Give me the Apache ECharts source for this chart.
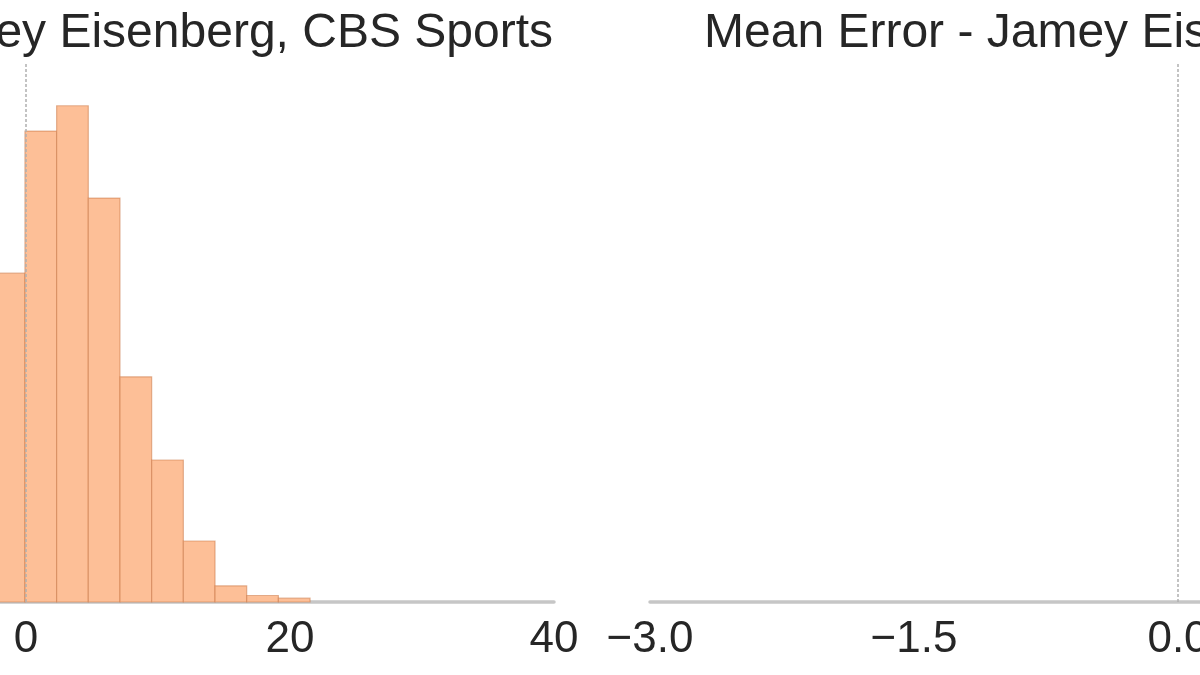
<!DOCTYPE html>
<html>
<head>
<meta charset="utf-8">
<script src="https://cdn.jsdelivr.net/npm/echarts@6/dist/echarts.min.js"></script>
<style>
html,body{margin:0;padding:0;background:#fff;}
#chart{width:1200px;height:675px;}
</style>
</head>
<body>
<div id="chart"></div>
<script>
// Left panel histogram (error distribution): bin start, bin width, height
const binStarts = [-2.48, -0.08, 2.32, 4.72, 7.12, 9.52, 11.92, 14.32, 16.72, 19.12];
const binWidth = 2.4;
const binCounts = [60.9, 87.2, 91.9, 74.8, 41.7, 26.3, 11.3, 3.0, 1.2, 0.7];
// reference lines (axvline at 0)
const leftRefLines = [0];
const rightRefLines = [0];
// titles
const leftTitle = 'Mean Error - Jamey Eisenberg, CBS Sports';
const rightTitle = 'Mean Error - Jamey Eisenberg, CBS Sports';
// axis ranges / ticks
const leftTicks = {min: -40, max: 40, interval: 20};
const rightTicks = {min: -3, max: 3, interval: 1.5};

const FONT = '"Liberation Sans", Arial, sans-serif';
const TXT = '#262626';

const histData = binStarts.map((s, i) => [s, s + binWidth, binCounts[i]]);

const chart = echarts.init(document.getElementById('chart'), null, {renderer: 'canvas'});

function minusFmt(v, digits) {
  const s = digits ? Number(v).toFixed(digits) : String(Math.round(v));
  return s.replace('-', '\u2212');
}

const axisCommon = {
  type: 'value',
  axisLine: {show: true, lineStyle: {color: '#c6c6c6', width: 3.5}},
  axisTick: {show: false},
  splitLine: {show: false},
};

const refLineStyle = {type: [3, 2], color: '#b0b0b0', width: 1.5};
const titleStyle = {fontFamily: FONT, fontSize: 48, fontWeight: 'normal', color: TXT};

chart.setOption({
  animation: false,
  backgroundColor: '#ffffff',
  textStyle: {fontFamily: FONT},
  title: [
    {text: leftTitle, right: 647, top: 10, padding: 0, textStyle: titleStyle},
    {text: rightTitle, left: 704, top: 10, padding: 0, textStyle: titleStyle}
  ],
  grid: [
    {left: -502, width: 1056, top: 62, height: 540, outerBoundsMode: 'none', containLabel: false},
    {left: 650, width: 1056, top: 62, height: 540, outerBoundsMode: 'none', containLabel: false}
  ],
  xAxis: [
    Object.assign({}, axisCommon, {
      gridIndex: 0, min: leftTicks.min, max: leftTicks.max, interval: leftTicks.interval,
      axisLabel: {color: TXT, fontSize: 44, fontFamily: FONT, margin: 16,
                  formatter: v => minusFmt(v, 0)}
    }),
    Object.assign({}, axisCommon, {
      gridIndex: 1, min: rightTicks.min, max: rightTicks.max, interval: rightTicks.interval,
      axisLabel: {color: TXT, fontSize: 44, fontFamily: FONT, margin: 16,
                  formatter: v => minusFmt(v, 1)}
    })
  ],
  yAxis: [
    {type: 'value', gridIndex: 0, min: 0, max: 100, show: false},
    {type: 'value', gridIndex: 1, min: 0, max: 100, show: false}
  ],
  series: [
    {
      type: 'custom',
      xAxisIndex: 0, yAxisIndex: 0,
      data: histData,
      encode: {x: [0, 1], y: 2},
      renderItem: function (params, api) {
        const p0 = api.coord([api.value(0), api.value(2)]);
        const p1 = api.coord([api.value(1), 0]);
        return {
          type: 'rect',
          shape: {x: p0[0], y: p0[1], width: p1[0] - p0[0], height: p1[1] - p0[1]},
          style: {fill: '#fdbf97', stroke: 'rgba(200,115,65,0.5)', lineWidth: 1.2}
        };
      },
      z: 3,
      markLine: {
        silent: true, symbol: 'none', label: {show: false},
        lineStyle: refLineStyle,
        data: leftRefLines.map(v => ({xAxis: v}))
      }
    },
    {
      type: 'line',
      xAxisIndex: 1, yAxisIndex: 1,
      data: [],
      markLine: {
        silent: true, symbol: 'none', label: {show: false},
        lineStyle: refLineStyle,
        data: rightRefLines.map(v => ({xAxis: v}))
      }
    }
  ]
});
</script>
</body>
</html>
